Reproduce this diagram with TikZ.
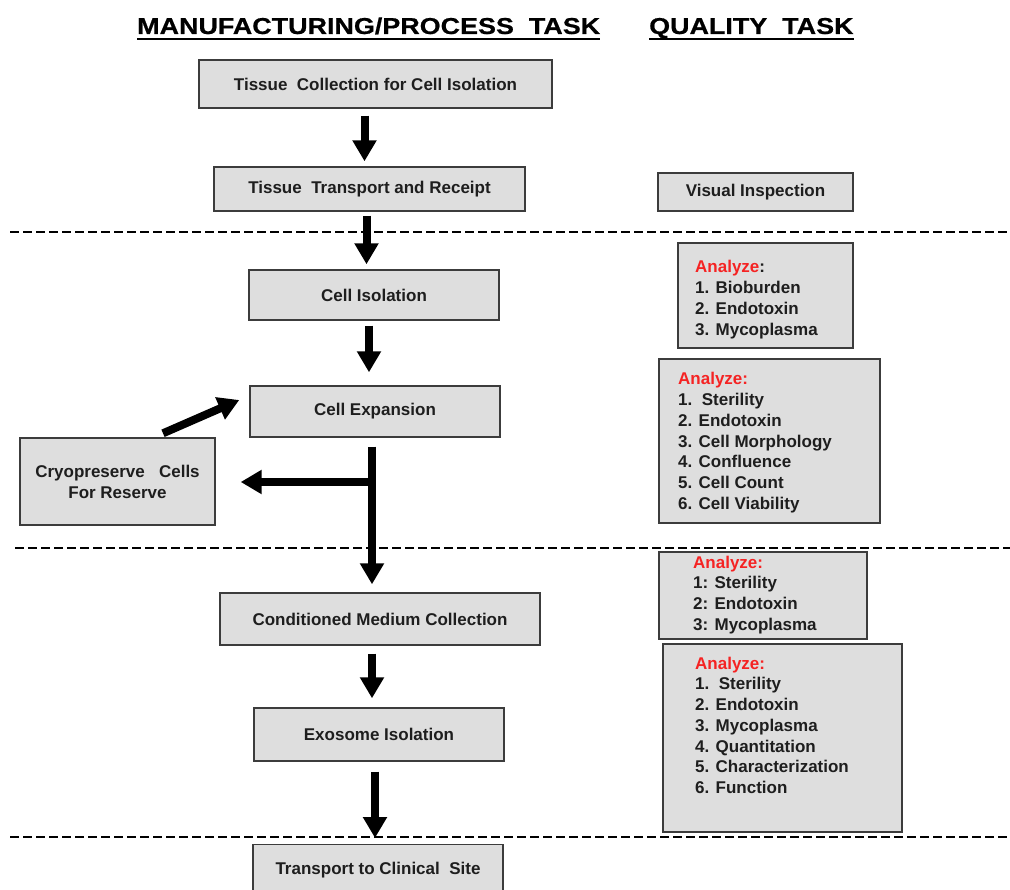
\documentclass[tikz,border=0pt]{standalone}
\usepackage{fontspec}
\setmainfont{Liberation Sans}
\newfontfamily\headfont{Liberation Sans Bold}[FakeStretch=1.17,FakeBold=0.6]
\usetikzlibrary{arrows.meta}
\definecolor{boxfill}{RGB}{222,222,222}
\definecolor{boxline}{RGB}{60,60,60}
\definecolor{txt}{RGB}{30,30,30}
\definecolor{alert}{RGB}{245,35,35}
\begin{document}
\begin{tikzpicture}[x=1pt,y=-1pt,
  pbox/.style={draw=boxline,fill=boxfill,line width=1.4pt,inner sep=0pt,
    text=txt,font=\fontsize{17}{21}\selectfont\bfseries,align=center},
  qlist/.style={anchor=base west,inner sep=0pt,text=txt},
  flow/.style={line width=8pt,draw=black,-{Triangle[length=21pt,width=23pt]}},
  separator/.style={line width=2pt,dash pattern=on 9pt off 4pt},
  heading/.style={inner sep=0pt,anchor=base west,
    font=\headfont\fontsize{23}{26}\selectfont}]
\useasboundingbox (0,0) rectangle (1010,890);
\newcommand\qtext[1]{\parbox[t]{230pt}{\raggedright\fontsize{17}{20.75}\selectfont\bfseries #1}}

% column headings
\node[heading] (hmfg) at (137,34) {MANUFACTURING/PROCESS\ \ TASK};
\node[heading] (hqual) at (649,34) {QUALITY\ \ TASK};
\draw[line width=2.6pt] ([yshift=-5pt]hmfg.base west) -- ([yshift=-5pt]hmfg.base east);
\draw[line width=2.6pt] ([yshift=-5pt]hqual.base west) -- ([yshift=-5pt]hqual.base east);

% stage separators
\draw[separator] (10,232) -- (1008,232);
\draw[separator] (15,548) -- (1010,548);
\draw[separator] (10,837) -- (1010,837);

% manufacturing steps
\node[pbox,minimum width=353pt,minimum height=48pt] (collect) at (375.5,84) {Tissue\ \ Collection for Cell Isolation};
\node[pbox,minimum width=311pt,minimum height=44pt] (transport) at (369.5,189) {Tissue\ \ Transport and Receipt};
\node[pbox,minimum width=250pt,minimum height=50pt] (isolate) at (374,295) {Cell Isolation};
\node[pbox,minimum width=250pt,minimum height=51pt] (expand) at (375,411.5) {Cell Expansion};
\node[pbox,minimum width=195pt,minimum height=87pt] (cryo) at (117.5,481.5) {Cryopreserve\ \ \ Cells\\For Reserve};
\node[pbox,minimum width=320pt,minimum height=52pt] (medium) at (380,619) {Conditioned Medium Collection};
\node[pbox,minimum width=250pt,minimum height=53pt] (exo) at (379,734.5) {Exosome\ Isolation};
\node[pbox,minimum width=250pt,minimum height=50pt,anchor=north] (clinic) at (378,844) {};
\node[inner sep=0pt,text=txt,font=\fontsize{17}{21}\selectfont\bfseries,anchor=base] (clinictext) at (378,874) {Transport to Clinical\ \ Site};

% quality checks
\node[pbox,minimum width=195pt,minimum height=38pt] (visual) at (755.5,192) {Visual Inspection};
\node[pbox,minimum width=175pt,minimum height=105pt] (qa1) at (765.5,295.5) {};
\node[qlist] (qa1t) at (695,273) {\qtext{\textcolor{alert}{Analyze}:\\1. Bioburden\\2. Endotoxin\\3. Mycoplasma}};
\node[pbox,minimum width=221pt,minimum height=164pt] (qa2) at (769.5,441) {};
\node[qlist] (qa2t) at (678,385) {\qtext{\textcolor{alert}{Analyze:}\\1.\ \ Sterility\\2. Endotoxin\\3. Cell Morphology\\4. Confluence\\5. Cell Count\\6. Cell Viability}};
\node[pbox,minimum width=208pt,minimum height=87pt] (qa3) at (763,595.5) {};
\node[qlist] (qa3t) at (693,568) {\qtext{\textcolor{alert}{Analyze:}\\1: Sterility\\2: Endotoxin\\3: Mycoplasma}};
\node[pbox,minimum width=239pt,minimum height=188pt] (qa4) at (782.5,738) {};
\node[qlist] (qa4t) at (695,669) {\qtext{\textcolor{alert}{Analyze:}\\1.\ \ Sterility\\2. Endotoxin\\3. Mycoplasma\\4. Quantitation\\5. Characterization\\6. Function}};

% process flow
\draw[flow,shorten <=7pt,shorten >=5pt] (collect.south -| 364.5,0) -- (transport.north -| 364.5,0);
\draw[flow,shorten <=4pt,shorten >=5pt] (transport.south -| 366.5,0) -- (isolate.north -| 366.5,0);
\draw[flow,shorten <=5pt,shorten >=13pt] (isolate.south -| 369,0) -- (expand.north -| 369,0);
\coordinate (split) at (372,482);
\draw[flow,shorten <=9pt,shorten >=8pt] (expand.south -| split) -- (medium.north -| split);
\draw[flow,shorten >=25pt] (split) -- (cryo.east |- split);
\draw[flow] ([xshift=45.5pt,yshift=4pt]cryo.north) -- ([xshift=-10pt,yshift=11.5pt]expand.west);
\draw[flow,shorten <=8pt,shorten >=9pt] (medium.south -| 372,0) -- (exo.north -| 372,0);
\draw[flow,shorten <=10pt,shorten >=6pt] (exo.south -| 375,0) -- (clinic.north -| 375,0);
\end{tikzpicture}
\end{document}
